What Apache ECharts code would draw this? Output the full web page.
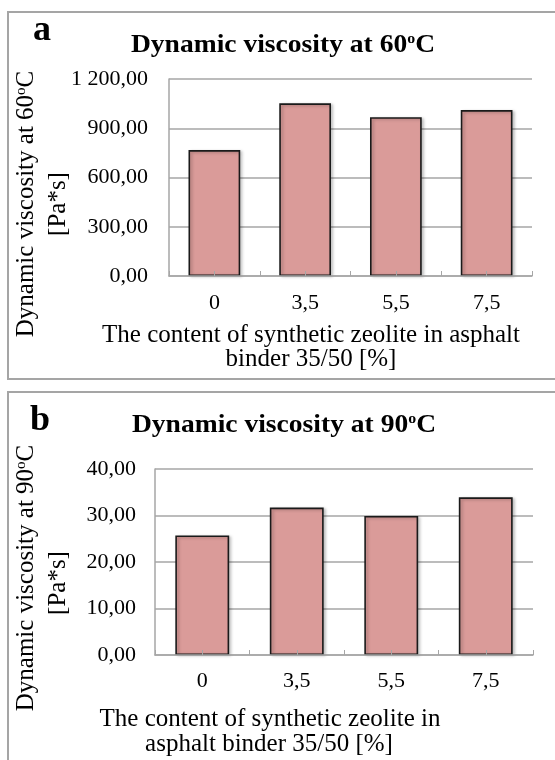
<!DOCTYPE html>
<html>
<head>
<meta charset="utf-8">
<script src="https://cdn.jsdelivr.net/npm/echarts@6/dist/echarts.min.js"></script>
<style>
  html, body { margin: 0; padding: 0; background: #fff; }
  #chart { width: 555px; height: 760px; }
</style>
</head>
<body>
<div id="chart"></div>
<script>
// zeolite content [%]
const categories = ['0', '3,5', '5,5', '7,5']
// dynamic viscosity [Pa*s]
const visc60 = [767, 1052, 967, 1011]
const visc90 = [25.7, 31.7, 29.9, 33.9]
const ticks60 = [0, 1200, 300]   // min, max, step
const ticks90 = [0, 40, 10]

const serif = 'Liberation Serif, Times New Roman, serif'
const barColor = '#DA9B99'
const gridGray = '#A6A6A6'

// 1200 -> "1 200,00"
const fmt = (v) => {
    const [i, d] = v.toFixed(2).split('.')
    return i.replace(/\B(?=(\d{3})+(?!\d))/g, ' ') + ',' + d
}

const chart = echarts.init(document.getElementById('chart'), null, { renderer: 'canvas' })

const sup = {
    sup: { fontSize: 15, fontFamily: serif, fontWeight: 'bold', verticalAlign: 'top', padding: [0, 0, 10, 0] },
    supN: { fontSize: 15, fontFamily: serif, verticalAlign: 'top', padding: [0, 0, 10, 0] }
}

const txt = (x, y, text, size, opts = {}) => ({
    type: 'text',
    x, y,
    rotation: opts.rotation || 0,
    scaleX: opts.scaleX || 1,
    z: 10,
    style: {
        text,
        font: `${opts.bold ? 'bold ' : ''}${size}px ${serif}`,
        fill: '#000',
        align: 'center',
        verticalAlign: 'middle',
        rich: opts.rich
    }
})

const yAxisCfg = (gridIndex, t, margin) => ({
    type: 'value',
    gridIndex,
    min: t[0], max: t[1], interval: t[2],
    axisLine: { show: true, lineStyle: { color: gridGray, width: 1.5 } },
    axisTick: { show: false },
    axisLabel: { color: '#000', fontFamily: serif, fontSize: 22, margin, formatter: fmt },
    splitLine: { show: true, lineStyle: { color: gridGray, width: 1.5 } }
})

const xAxisCfg = (gridIndex, margin) => ({
    type: 'category',
    gridIndex,
    data: categories,
    z: 5,
    axisLine: { show: true, lineStyle: { color: gridGray, width: 1.5 } },
    axisTick: { show: true, inside: true, length: 5, interval: 0, lineStyle: { color: gridGray } },
    axisLabel: { color: '#000', fontFamily: serif, fontSize: 22, margin }
})

// second category axis only for the centre ticks
const xTickCfg = (gridIndex) => ({
    type: 'category',
    gridIndex,
    data: categories,
    position: 'bottom',
    z: 5,
    axisLine: { show: false },
    axisLabel: { show: false },
    axisTick: { show: true, inside: true, length: 5, alignWithLabel: true, lineStyle: { color: gridGray } }
})

const barSeries = (idx, data) => ({
    type: 'bar',
    xAxisIndex: idx * 2,
    yAxisIndex: idx,
    data,
    barWidth: '57%',
    itemStyle: {
        color: barColor,
        borderColor: '#1a1a1a',
        borderWidth: 1.6,
        shadowColor: 'rgba(0,0,0,0.25)',
        shadowBlur: 3,
        shadowOffsetX: 2,
        shadowOffsetY: 1
    },
    silent: true,
    animation: false
})

const option = {
    backgroundColor: '#fff',
    animation: false,
    grid: [
        { left: 169, right: 23, top: 79, height: 197 },
        { left: 155, right: 22, top: 469, height: 186 }
    ],
    xAxis: [xAxisCfg(0, 16), xTickCfg(0), xAxisCfg(1, 15), xTickCfg(1)],
    yAxis: [yAxisCfg(0, ticks60, 21), yAxisCfg(1, ticks90, 19)],
    series: [barSeries(0, visc60), barSeries(1, visc90)],
    graphic: [
        // panel frames
        { type: 'rect', shape: { x: 8, y: 12, width: 560, height: 367 }, style: { fill: null, stroke: '#A5A5A5', lineWidth: 2 }, z: 1 },
        { type: 'rect', shape: { x: 8, y: 392, width: 560, height: 400 }, style: { fill: null, stroke: '#A5A5A5', lineWidth: 2 }, z: 1 },

        // panel a
        txt(42, 31, 'a', 36, { bold: true }),
        txt(283, 45, 'Dynamic viscosity at 60{sup|o}C', 26, { bold: true, rich: sup, scaleX: 1.06 }),
        txt(26, 204, 'Dynamic viscosity at 60{supN|o}C', 25, { rotation: Math.PI / 2, rich: sup }),
        txt(58, 204, '[Pa*s]', 25, { rotation: Math.PI / 2 }),
        txt(311, 335, 'The content of synthetic zeolite in asphalt', 25),
        txt(311, 359, 'binder 35/50 [%]', 25),

        // panel b
        txt(40, 421, 'b', 36, { bold: true }),
        txt(284, 425, 'Dynamic viscosity at 90{sup|o}C', 26, { bold: true, rich: sup, scaleX: 1.06 }),
        txt(26, 578, 'Dynamic viscosity at 90{supN|o}C', 25, { rotation: Math.PI / 2, rich: sup }),
        txt(58, 583, '[Pa*s]', 25, { rotation: Math.PI / 2 }),
        txt(270, 719, 'The content of synthetic zeolite in', 25),
        txt(269, 744, 'asphalt binder 35/50 [%]', 25)
    ]
}

chart.setOption(option)
window.addEventListener('resize', () => chart.resize())
</script>
</body>
</html>
